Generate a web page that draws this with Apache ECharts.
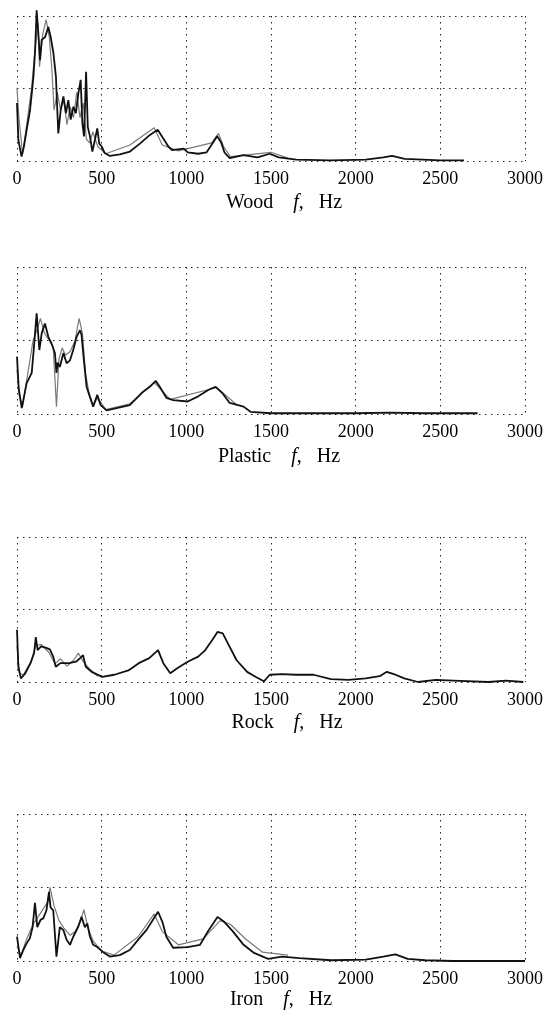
<!DOCTYPE html>
<html>
<head>
<meta charset="utf-8">
<script src="https://cdn.jsdelivr.net/npm/echarts@6/dist/echarts.min.js"></script>
<style>
html,body{margin:0;padding:0;background:#fff;}
#c{width:548px;height:1016px;}
</style>
</head>
<body>
<div id="c"></div>
<script>
var xTicks = [0, 500, 1000, 1500, 2000, 2500, 3000];
var materials = ['Wood', 'Plastic', 'Rock', 'Iron'];

// Wood: main trace
var woodF = [0, 8, 27, 41, 57, 77, 97, 107, 116, 126, 136, 146, 166, 185, 199, 215, 230, 238, 244, 258, 274, 289, 303, 317, 333, 348, 362, 376, 386, 396, 408, 418, 431, 445, 460, 474, 486, 500, 518, 548, 608, 667, 726, 785, 831, 864, 894, 915, 950, 985, 1008, 1070, 1120, 1151, 1182, 1205, 1225, 1256, 1337, 1420, 1493, 1545, 1650, 1850, 2060, 2163, 2215, 2290, 2500, 2640];
var woodV = [0.80, 0.29, 0.06, 0.20, 0.43, 0.70, 1.16, 1.53, 2.08, 1.76, 1.39, 1.67, 1.71, 1.85, 1.71, 1.49, 1.16, 0.70, 0.38, 0.70, 0.89, 0.66, 0.84, 0.57, 0.75, 0.66, 0.93, 1.12, 0.52, 0.34, 1.23, 0.47, 0.34, 0.13, 0.29, 0.45, 0.24, 0.20, 0.11, 0.07, 0.09, 0.13, 0.24, 0.36, 0.43, 0.31, 0.20, 0.15, 0.16, 0.17, 0.12, 0.10, 0.12, 0.23, 0.34, 0.26, 0.12, 0.04, 0.08, 0.05, 0.10, 0.05, 0.02, 0.01, 0.02, 0.05, 0.07, 0.03, 0.01, 0.01];
// Wood: lighter repeat trace
var woodF2 = [0, 11, 33, 57, 86, 105, 124, 133, 152, 172, 191, 205, 219, 238, 257, 276, 295, 314, 334, 353, 372, 391, 410, 429, 448, 477, 524, 667, 762, 810, 858, 953, 1150, 1190, 1220, 1260, 1500, 1600];
var woodV2 = [1.01, 0.60, 0.10, 0.50, 1.00, 1.50, 1.90, 1.30, 1.75, 1.95, 1.70, 1.30, 0.70, 0.95, 0.70, 0.85, 0.50, 0.75, 0.60, 0.95, 0.60, 0.80, 0.30, 0.25, 0.40, 0.20, 0.10, 0.22, 0.38, 0.46, 0.22, 0.14, 0.25, 0.38, 0.20, 0.06, 0.12, 0.04];

// Plastic
var plasticF = [0, 10, 28, 57, 87, 100, 116, 132, 146, 165, 185, 204, 224, 233, 240, 253, 274, 293, 313, 332, 352, 372, 381, 395, 411, 431, 450, 474, 494, 529, 588, 666, 743, 784, 820, 843, 882, 922, 1008, 1070, 1132, 1173, 1214, 1256, 1338, 1379, 1500, 1750, 2000, 2200, 2400, 2600, 2720];
var plasticV = [0.78, 0.35, 0.08, 0.42, 0.56, 0.91, 1.37, 0.87, 1.10, 1.23, 1.05, 0.96, 0.83, 0.56, 0.70, 0.64, 0.83, 0.69, 0.73, 0.87, 1.05, 1.14, 1.08, 0.73, 0.37, 0.23, 0.10, 0.26, 0.12, 0.05, 0.08, 0.12, 0.30, 0.37, 0.45, 0.37, 0.22, 0.19, 0.17, 0.24, 0.33, 0.37, 0.28, 0.15, 0.10, 0.03, 0.01, 0.01, 0.01, 0.02, 0.01, 0.01, 0.01];
var plasticF2 = [0, 14, 33, 67, 95, 119, 138, 162, 191, 214, 233, 248, 267, 286, 314, 343, 367, 386, 405, 424, 448, 477, 524, 667, 810, 905, 1180, 1300];
var plasticV2 = [0.60, 0.25, 0.10, 0.60, 1.00, 1.15, 1.30, 1.10, 1.00, 0.90, 0.10, 0.75, 0.90, 0.80, 0.85, 1.00, 1.30, 1.10, 0.55, 0.30, 0.12, 0.22, 0.06, 0.14, 0.43, 0.20, 0.36, 0.12];

// Rock
var rockF = [0, 8, 23, 49, 80, 101, 111, 122, 142, 173, 194, 214, 229, 256, 307, 348, 373, 390, 406, 441, 503, 575, 658, 719, 781, 833, 864, 905, 946, 1008, 1070, 1112, 1153, 1184, 1215, 1246, 1297, 1359, 1411, 1458, 1493, 1565, 1648, 1751, 1854, 1957, 2060, 2142, 2184, 2225, 2287, 2369, 2473, 2577, 2784, 2887, 2990];
var rockV = [0.72, 0.21, 0.05, 0.12, 0.26, 0.40, 0.62, 0.44, 0.49, 0.47, 0.45, 0.35, 0.21, 0.26, 0.26, 0.28, 0.33, 0.37, 0.21, 0.14, 0.07, 0.10, 0.16, 0.26, 0.33, 0.44, 0.26, 0.12, 0.19, 0.28, 0.35, 0.44, 0.58, 0.69, 0.67, 0.53, 0.30, 0.14, 0.07, 0.01, 0.10, 0.11, 0.10, 0.10, 0.04, 0.03, 0.05, 0.08, 0.14, 0.11, 0.05, 0.00, 0.03, 0.02, 0.00, 0.02, 0.00];
var rockF2 = [0, 14, 38, 86, 110, 143, 191, 224, 257, 295, 334, 362, 391, 429, 477];
var rockV2 = [0.50, 0.12, 0.10, 0.30, 0.50, 0.52, 0.40, 0.25, 0.32, 0.22, 0.30, 0.40, 0.28, 0.18, 0.08];

// Iron
var ironF = [0, 18, 37, 57, 76, 92, 106, 120, 139, 155, 174, 189, 198, 214, 233, 253, 274, 293, 313, 332, 361, 381, 401, 415, 431, 450, 474, 509, 548, 607, 666, 716, 764, 803, 833, 859, 882, 922, 1008, 1081, 1132, 1184, 1225, 1276, 1338, 1400, 1483, 1565, 1668, 1854, 2060, 2163, 2235, 2307, 2410, 2577, 2800, 3000];
var ironV = [0.33, 0.04, 0.15, 0.24, 0.31, 0.46, 0.79, 0.46, 0.56, 0.58, 0.69, 0.94, 0.73, 0.69, 0.06, 0.46, 0.42, 0.29, 0.22, 0.33, 0.46, 0.60, 0.46, 0.51, 0.33, 0.22, 0.19, 0.12, 0.06, 0.08, 0.15, 0.29, 0.42, 0.56, 0.67, 0.53, 0.33, 0.18, 0.19, 0.22, 0.42, 0.60, 0.53, 0.40, 0.22, 0.11, 0.03, 0.06, 0.04, 0.01, 0.02, 0.06, 0.09, 0.03, 0.01, 0.00, 0.00, 0.00];
var ironF2 = [0, 24, 57, 95, 124, 152, 181, 195, 219, 248, 276, 314, 343, 376, 395, 419, 448, 496, 572, 715, 810, 858, 953, 1100, 1200, 1260, 1350, 1450, 1600];
var ironV2 = [0.20, 0.08, 0.30, 0.50, 0.60, 0.70, 0.80, 1.00, 0.75, 0.55, 0.45, 0.35, 0.40, 0.55, 0.70, 0.45, 0.28, 0.14, 0.08, 0.33, 0.64, 0.40, 0.22, 0.30, 0.55, 0.50, 0.30, 0.12, 0.08];

var mainF = [woodF, plasticF, rockF, ironF];
var mainV = [woodV, plasticV, rockV, ironV];
var altF = [woodF2, plasticF2, rockF2, ironF2];
var altV = [woodV2, plasticV2, rockV2, ironV2];

function pairs(f, v) { return f.map(function (x, i) { return [x, v[i]]; }); }

var tops = [16, 267, 537, 814];
var heights = [145, 147, 145, 147];
var titleX = [284, 279, 287, 281];
var titleY = [193, 447, 713, 990];

var serif = 'Liberation Serif';
var grids = [], xAxes = [], yAxes = [], series = [], graphics = [];
var dotted = { color: '#222', width: 1, type: [1.5, 4.5] };

for (var i = 0; i < 4; i++) {
  grids.push({ left: 17, width: 508, top: tops[i], height: heights[i] });
  xAxes.push({
    type: 'value', gridIndex: i, min: 0, max: 3000, interval: 500,
    axisLine: { show: false }, axisTick: { show: false },
    axisLabel: { margin: 9, fontSize: 18, fontFamily: serif, color: '#000',
      formatter: function (v) { return xTicks.indexOf(v) >= 0 ? String(v) : ''; } },
    splitLine: { show: true, lineStyle: dotted }
  });
  yAxes.push({
    type: 'value', gridIndex: i, min: 0, max: 2, interval: 1,
    axisLine: { show: false }, axisTick: { show: false }, axisLabel: { show: false },
    splitLine: { show: true, lineStyle: dotted }
  });
  series.push({
    type: 'line', xAxisIndex: i, yAxisIndex: i, data: pairs(altF[i], altV[i]),
    showSymbol: false, clip: false, silent: true,
    lineStyle: { color: '#7a7a7a', width: 1.2 }
  });
  series.push({
    type: 'line', xAxisIndex: i, yAxisIndex: i, data: pairs(mainF[i], mainV[i]),
    showSymbol: false, clip: false, silent: true,
    lineStyle: { color: '#111', width: 1.8 }
  });
  graphics.push({
    type: 'text', x: titleX[i], y: titleY[i],
    style: {
      text: '{n|' + materials[i] + '}{s|    }{i|f}{n|,   Hz}',
      textAlign: 'center', textVerticalAlign: 'top',
      rich: {
        n: { fontFamily: serif, fontSize: 20, fill: '#000' },
        s: { fontFamily: serif, fontSize: 20 },
        i: { fontFamily: serif, fontSize: 20, fontStyle: 'italic', fill: '#000' }
      }
    }
  });
}

var chart = echarts.init(document.getElementById('c'), null, { renderer: 'canvas' });
chart.setOption({
  animation: false,
  backgroundColor: '#fff',
  grid: grids, xAxis: xAxes, yAxis: yAxes, series: series, graphic: graphics
});
</script>
</body>
</html>
